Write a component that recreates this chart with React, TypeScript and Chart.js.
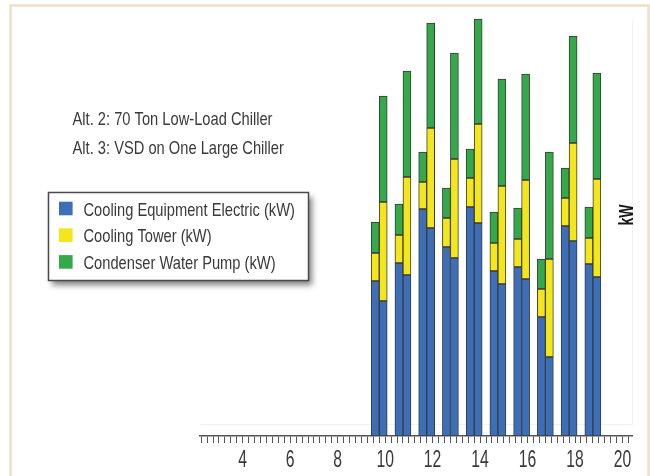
import React, { useEffect, useRef } from "react";
import { Chart, registerables } from "chart.js";

Chart.register(...registerables);

// ---- data ----
const hours = [10, 11, 12, 13, 14, 15, 16, 17, 18, 19];
const alt2Electric = [77.5, 86.5, 113.5, 94.5, 114.5, 82.5, 84.5, 59.5, 105, 86];
const alt2Tower = [14, 14, 13.5, 14.5, 14.5, 14, 14, 14, 14, 13];
const alt2Pump = [15.5, 15.5, 15, 15, 14.5, 15.5, 15.5, 15, 15, 15.5];
const alt3Electric = [67.5, 80.5, 104, 89, 106.5, 76, 78.5, 39.5, 97.5, 79.5];
const alt3Tower = [49.5, 49, 50, 49.5, 49.5, 49, 49.5, 49, 49, 49];
const alt3Pump = [53, 53, 52.5, 53, 52.5, 53.5, 53, 53.5, 53.5, 53];
const tickLabels = [4, 6, 8, 10, 12, 14, 16, 18, 20];
const seriesNames = [
  "Cooling Equipment Electric (kW)",
  "Cooling Tower (kW)",
  "Condenser Water Pump (kW)",
];
const altNotes = ["Alt. 2: 70 Ton Low-Load Chiller", "Alt. 3: VSD on One Large Chiller"];
const yTitle = "kW";

// ---- styles ----
const seriesColors = ["#3C6FB7", "#F3E71C", "#33A94A"];
const FONT = '"Liberation Sans Narrow", "Liberation Sans", Arial, sans-serif';
const TEXT_COLOR = "#3a3a3a";

function drawText(
  ctx: CanvasRenderingContext2D,
  text: string,
  x: number,
  y: number,
  size: number,
  sx: number,
  color: string,
  align: CanvasTextAlign = "left"
) {
  ctx.save();
  ctx.font = `${size}px ${FONT}`;
  ctx.fillStyle = color;
  ctx.textBaseline = "alphabetic";
  ctx.textAlign = align;
  ctx.translate(x, y);
  ctx.scale(sx, 1);
  ctx.fillText(text, 0, 0);
  ctx.restore();
}

const decorPlugin = {
  id: "decor",
  beforeDraw(chart: any) {
    const { ctx, width, height, chartArea } = chart;
    ctx.save();
    ctx.fillStyle = "#ffffff";
    ctx.fillRect(0, 0, width, height);
    // outer frame (open at bottom)
    ctx.strokeStyle = "#EEDFC6";
    ctx.lineWidth = 2.5;
    ctx.beginPath();
    ctx.moveTo(10.5, height);
    ctx.lineTo(10.5, 5.5);
    ctx.lineTo(648.5, 5.5);
    ctx.lineTo(648.5, height);
    ctx.stroke();
    // faint plot floor / wall lines
    ctx.strokeStyle = "#EDF0F4";
    ctx.lineWidth = 1;
    ctx.beginPath();
    ctx.moveTo(chartArea.left, chartArea.bottom - 11.5);
    ctx.lineTo(chartArea.right, chartArea.bottom - 11.5);
    ctx.moveTo(chartArea.right + 0.5, chartArea.bottom - 11);
    ctx.lineTo(chartArea.right + 0.5, 20);
    ctx.stroke();
    ctx.restore();
  },
  afterDraw(chart: any) {
    const { ctx, chartArea } = chart;
    const xs = chart.scales.x;

    ctx.save();
    ctx.font = `19px ${FONT}`;
    const sx = 200 / ctx.measureText(altNotes[0]).width;
    ctx.font = `24px ${FONT}`;
    const sxTick = 17.5 / ctx.measureText("20").width;
    ctx.restore();

    // alt notes
    drawText(ctx, altNotes[0], 72.5, 125, 19, sx, TEXT_COLOR);
    drawText(ctx, altNotes[1], 72.5, 154, 19, sx, TEXT_COLOR);

    // legend box with shadow
    const bx = 48.5, by = 192.5, bw = 260, bh = 88;
    ctx.save();
    ctx.shadowColor = "rgba(0,0,0,0.5)";
    ctx.shadowBlur = 6;
    ctx.shadowOffsetX = 3;
    ctx.shadowOffsetY = 4;
    ctx.fillStyle = "#ffffff";
    ctx.fillRect(bx, by, bw, bh);
    ctx.restore();
    ctx.save();
    ctx.strokeStyle = "#4a4a4a";
    ctx.lineWidth = 1.5;
    ctx.strokeRect(bx, by, bw, bh);
    ctx.restore();
    seriesNames.forEach((name, i) => {
      const cy = 208.5 + i * 26.7;
      ctx.save();
      ctx.fillStyle = seriesColors[i];
      ctx.fillRect(59, cy - 6.8, 13.6, 13.6);
      ctx.restore();
      drawText(ctx, name, 83.5, cy + 7, 19, sx, TEXT_COLOR);
    });

    // x tick labels
    tickLabels.forEach((v) => {
      const px = xs.getPixelForValue(v);
      drawText(ctx, String(v), px, chartArea.bottom + 31, 24, sxTick, TEXT_COLOR, "center");
    });

    // kW title
    ctx.save();
    ctx.translate(chartArea.right - 5, 215);
    ctx.rotate(-Math.PI / 2);
    ctx.font = `bold 21px ${FONT}`;
    ctx.fillStyle = "#151515";
    ctx.textAlign = "center";
    ctx.textBaseline = "middle";
    ctx.scale(sxTick * 1.02, 1);
    ctx.fillText(yTitle, 0, 0);
    ctx.restore();
  },
};

export default function App() {
  const ref = useRef<HTMLCanvasElement | null>(null);

  useEffect(() => {
    if (!ref.current) return;
    const toPoints = (arr: number[]) => hours.map((h, i) => ({ x: h - 0.25, y: arr[i] }));
    const mk = (label: string, arr: number[], color: string, stack: string) => ({
      label,
      data: toPoints(arr),
      backgroundColor: color,
      borderColor: "#3a3a3a",
      borderWidth: 1,
      borderSkipped: false,
      barThickness: 8,
      stack,
    });
    const chart = new Chart(ref.current, {
      type: "bar",
      data: {
        datasets: [
          mk(seriesNames[0], alt2Electric, seriesColors[0], "alt2"),
          mk(seriesNames[1], alt2Tower, seriesColors[1], "alt2"),
          mk(seriesNames[2], alt2Pump, seriesColors[2], "alt2"),
          mk(seriesNames[0], alt3Electric, seriesColors[0], "alt3"),
          mk(seriesNames[1], alt3Tower, seriesColors[1], "alt3"),
          mk(seriesNames[2], alt3Pump, seriesColors[2], "alt3"),
        ] as any,
      },
      options: {
        animation: false,
        responsive: false,
        layout: { padding: { left: 200, right: 18, top: 16, bottom: 33 } },
        plugins: { legend: { display: false }, tooltip: { enabled: false } },
        scales: {
          x: {
            type: "linear",
            min: 2.2,
            max: 20.4,
            stacked: true,
            offset: false,
            afterBuildTicks: (s: any) => {
              const t = [];
              for (let k = 9; k <= 81; k++) t.push({ value: k / 4 });
              s.ticks = t;
            },
            ticks: { display: false, autoSkip: false },
            grid: {
              display: true,
              drawOnChartArea: false,
              drawTicks: true,
              tickLength: 7,
              color: "#555555",
              lineWidth: 1,
              offset: false,
            },
            border: { display: true, color: "#555555", width: 1.5 },
          },
          y: { display: false, min: 0, max: 210, stacked: true },
        },
      } as any,
      plugins: [decorPlugin],
    });
    return () => chart.destroy();
  }, []);

  return (
    <div style={{ position: "absolute", left: 0, top: 0, width: 650, height: 476 }}>
      <canvas ref={ref} width={650} height={476} style={{ width: 650, height: 476 }} />
    </div>
  );
}
